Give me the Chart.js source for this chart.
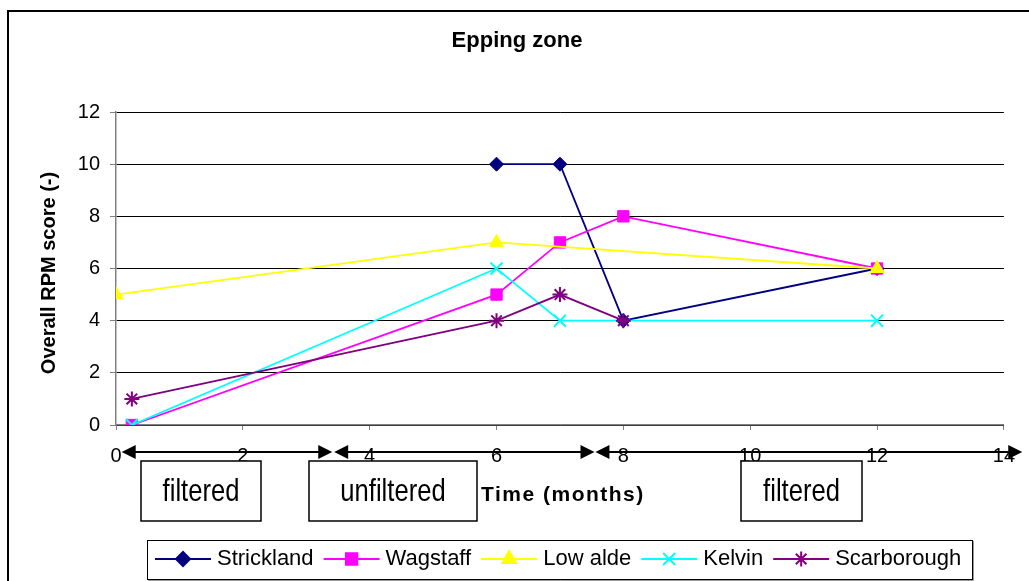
<!DOCTYPE html>
<html>
<head>
<meta charset="utf-8">
<script src="https://cdn.jsdelivr.net/npm/chart.js@4/dist/chart.umd.min.js"></script>
<style>
  html, body { margin: 0; padding: 0; background: #fff; overflow: hidden; }
  canvas { display: block; }
</style>
</head>
<body>
<canvas id="c" width="1029" height="581"></canvas>
<script>
// ---- data ----
const chartTitle = 'Epping zone';
const xTitle = 'Time (months)';
const yTitle = 'Overall RPM score (-)';

const seriesNames = ['Strickland', 'Wagstaff', 'Low alde', 'Kelvin', 'Scarborough'];

const stricklandMonths = [6, 7, 8, 12];
const stricklandScores = [10, 10, 4, 6];

const wagstaffMonths = [0.25, 6, 7, 8, 12];
const wagstaffScores = [0, 5, 7, 8, 6];

const lowaldeMonths = [0, 6, 12];
const lowaldeScores = [5, 7, 6];

const kelvinMonths = [0.25, 6, 7, 12];
const kelvinScores = [0, 6, 4, 4];

const scarboroughMonths = [0.25, 6, 7, 8];
const scarboroughScores = [1, 4, 5, 4];

const xTicks = [0, 2, 4, 6, 8, 10, 12, 14];
const yTicks = [0, 2, 4, 6, 8, 10, 12];

// treatment phases along the time axis (months)
const phaseLabels = ['filtered', 'unfiltered', 'filtered'];
const phaseStart = [0.09, 3.44, 7.56];
const phaseEnd = [3.41, 7.545, 14.29];

// ---- styling ----
const FONT = "'Liberation Sans', Arial, Helvetica, sans-serif";
const seriesMonths = [stricklandMonths, wagstaffMonths, lowaldeMonths, kelvinMonths, scarboroughMonths];
const seriesScores = [stricklandScores, wagstaffScores, lowaldeScores, kelvinScores, scarboroughScores];
const seriesColors = ['#000080', '#FF00FF', '#FFFF00', '#00FFFF', '#800080'];
const seriesMarkers = [
  { pointStyle: 'rectRot', radius: 7, borderWidth: 1 },
  { pointStyle: 'rect', radius: 8, borderWidth: 1 },
  { pointStyle: 'triangle', radius: 8, borderWidth: 1 },
  { pointStyle: 'crossRot', radius: 8.5, borderWidth: 2 },
  { pointStyle: 'star', radius: 7.5, borderWidth: 2 }
];
// phase boxes under the axis: left edge and width in px
const boxLeft = [141, 309, 741];
const boxWidth = [120, 168, 121];

const datasets = seriesNames.map((name, i) => ({
  label: name,
  data: seriesMonths[i].map((m, j) => ({ x: m, y: seriesScores[i][j] })),
  borderColor: seriesColors[i],
  backgroundColor: seriesColors[i],
  borderWidth: 1.8,
  tension: 0,
  fill: false,
  pointStyle: seriesMarkers[i].pointStyle,
  pointRadius: seriesMarkers[i].radius,
  pointHoverRadius: seriesMarkers[i].radius,
  pointBorderWidth: seriesMarkers[i].borderWidth,
  order: seriesNames.length - i
}));

function drawMarker(ctx, m, x, y) {
  if (Chart.helpers && Chart.helpers.drawPoint) {
    Chart.helpers.drawPoint(ctx, { pointStyle: m.pointStyle, radius: m.radius, rotation: 0, borderWidth: m.borderWidth }, x, y);
  }
}

const decor = {
  id: 'decor',
  afterDraw(chart) {
    const ctx = chart.ctx;
    const xs = chart.scales.x;
    ctx.save();

    // outer frame
    ctx.strokeStyle = '#000';
    ctx.lineWidth = 2;
    ctx.strokeRect(8, 11, 1100, 700);

    // chart title
    ctx.fillStyle = '#000';
    ctx.textAlign = 'center';
    ctx.textBaseline = 'alphabetic';
    ctx.font = `bold 22px ${FONT}`;
    ctx.fillText(chartTitle, 517, 47);

    // y axis title
    ctx.save();
    ctx.translate(55, 273);
    ctx.rotate(-Math.PI / 2);
    ctx.font = `bold 20px ${FONT}`;
    ctx.fillText(yTitle, 0, 0);
    ctx.restore();

    // x axis title
    ctx.textAlign = 'left';
    ctx.font = `bold 21px ${FONT}`;
    if ('letterSpacing' in ctx) ctx.letterSpacing = '1.5px';
    ctx.fillText(xTitle, 481, 501);
    if ('letterSpacing' in ctx) ctx.letterSpacing = '0px';

    // phase arrows
    const ay = 452;
    const head = (tipX, dir) => {
      ctx.beginPath();
      ctx.moveTo(tipX, ay);
      ctx.lineTo(tipX + dir * 14, ay - 7);
      ctx.lineTo(tipX + dir * 14, ay + 7);
      ctx.closePath();
      ctx.fill();
    };
    ctx.strokeStyle = '#000';
    ctx.fillStyle = '#000';
    ctx.lineWidth = 2;
    phaseStart.forEach((s, i) => {
      const x0 = xs.getPixelForValue(s);
      const x1 = xs.getPixelForValue(phaseEnd[i]);
      ctx.beginPath();
      ctx.moveTo(x0 + 10, ay);
      ctx.lineTo(x1 - 10, ay);
      ctx.stroke();
      head(x0, 1);
      head(x1, -1);
    });

    // phase boxes
    ctx.lineWidth = 1.5;
    boxLeft.forEach((bx, i) => {
      ctx.fillStyle = '#fff';
      ctx.fillRect(bx, 461, boxWidth[i], 60);
      ctx.strokeStyle = '#000';
      ctx.strokeRect(bx, 461, boxWidth[i], 60);
      ctx.save();
      ctx.translate(bx + boxWidth[i] / 2, 501);
      ctx.scale(0.8, 1);
      ctx.fillStyle = '#000';
      ctx.textAlign = 'center';
      ctx.font = `32px ${FONT}`;
      ctx.fillText(phaseLabels[i], 0, 0);
      ctx.restore();
    });

    // legend
    ctx.fillStyle = '#fff';
    ctx.fillRect(147, 540, 825, 40);
    ctx.strokeStyle = '#000';
    ctx.lineWidth = 1;
    ctx.strokeRect(147.5, 540.5, 825, 39);
    ctx.strokeStyle = '#999';
    ctx.beginPath();
    ctx.moveTo(148, 580.5); ctx.lineTo(973.5, 580.5); ctx.lineTo(973.5, 541);
    ctx.stroke();

    ctx.font = `22px ${FONT}`;
    ctx.textAlign = 'left';
    ctx.textBaseline = 'alphabetic';
    let lx = 155;
    const ly = 559;
    chart.data.datasets.forEach((ds, i) => {
      ctx.strokeStyle = ds.borderColor;
      ctx.fillStyle = ds.backgroundColor;
      ctx.lineWidth = 2;
      ctx.beginPath();
      ctx.moveTo(lx, ly);
      ctx.lineTo(lx + 56, ly);
      ctx.stroke();
      drawMarker(ctx, seriesMarkers[i], lx + 28, ly);
      ctx.fillStyle = '#000';
      ctx.fillText(ds.label, lx + 62, 565);
      lx += 62 + ctx.measureText(ds.label).width + 10;
    });

    ctx.restore();
  }
};

new Chart(document.getElementById('c'), {
  type: 'line',
  data: { datasets },
  plugins: [decor],
  options: {
    responsive: false,
    devicePixelRatio: 1,
    animation: false,
    events: [],
    layout: { padding: { left: 0, top: 112, right: 21, bottom: 0 } },
    plugins: {
      legend: { display: false },
      title: { display: false },
      tooltip: { enabled: false }
    },
    scales: {
      x: {
        type: 'linear',
        min: xTicks[0],
        max: xTicks[xTicks.length - 1],
        afterFit(scale) { scale.height = 156; },
        afterBuildTicks(scale) { scale.ticks = xTicks.map(v => ({ value: v })); },
        ticks: {
          color: '#000',
          font: { family: FONT, size: 20 },
          padding: 14,
          maxRotation: 0,
          autoSkip: false
        },
        grid: {
          drawOnChartArea: false,
          drawTicks: true,
          tickLength: 5,
          color: '#808080',
          tickColor: '#808080'
        },
        border: { color: '#808080', width: 1.5 }
      },
      y: {
        min: yTicks[0],
        max: yTicks[yTicks.length - 1],
        afterFit(scale) { scale.width = 116; },
        afterBuildTicks(scale) { scale.ticks = yTicks.map(v => ({ value: v })); },
        ticks: {
          color: '#000',
          font: { family: FONT, size: 20 },
          padding: 10
        },
        grid: {
          color: '#000',
          lineWidth: 1,
          drawTicks: true,
          tickLength: 6,
          tickColor: '#808080'
        },
        border: { color: '#808080', width: 1.5 }
      }
    }
  }
});
</script>
</body>
</html>
